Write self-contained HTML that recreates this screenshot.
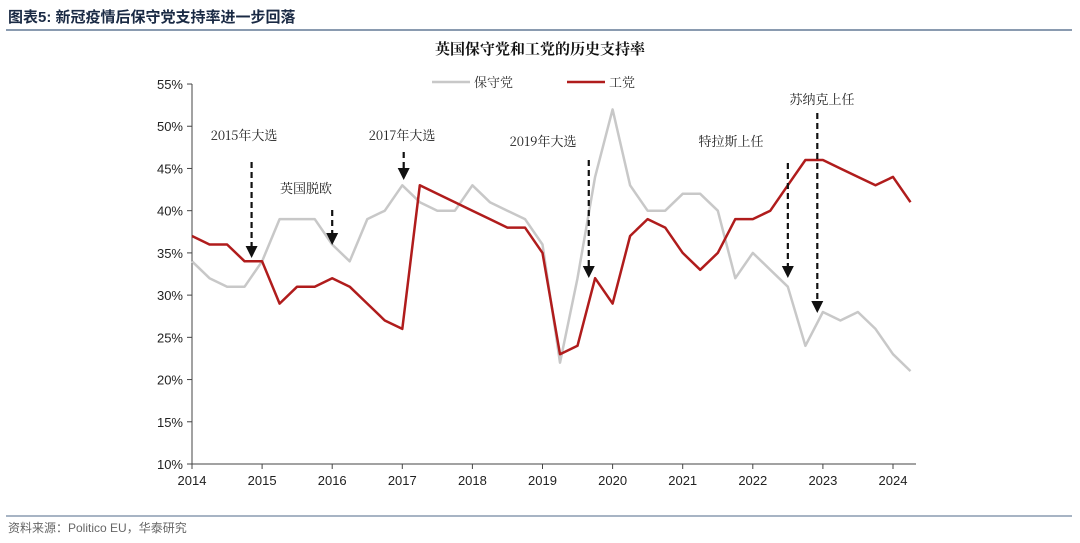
<!DOCTYPE html>
<html><head><meta charset="utf-8"><style>
body{margin:0;background:#fff;width:1080px;height:543px;overflow:hidden;font-family:"Liberation Sans","Noto Sans CJK SC",sans-serif}
svg{display:block}
</style></head><body>
<svg id="c" width="1080" height="543">
<text x="8" y="22" font-size="15" font-weight="bold" fill="#1a2a44" font-family="Liberation Sans,Noto Sans CJK SC,sans-serif">图表5:  新冠疫情后保守党支持率进一步回落</text>
<line x1="6" y1="30" x2="1072" y2="30" stroke="#8a9bb0" stroke-width="2"/>
<text x="540" y="54" font-size="15" font-weight="bold" text-anchor="middle" fill="#111" font-family="Noto Serif CJK SC,serif">英国保守党和工党的历史支持率</text>
<g>
<line x1="432" y1="82" x2="470" y2="82" stroke="#c8c8c8" stroke-width="2.5"/>
<text x="474" y="87" font-size="13" fill="#333" font-family="Noto Serif CJK SC,serif">保守党</text>
<line x1="567" y1="82" x2="605" y2="82" stroke="#b01c1c" stroke-width="2.5"/>
<text x="609" y="87" font-size="13" fill="#333" font-family="Noto Serif CJK SC,serif">工党</text>
</g>
<g id="axes"></g><g id="series"></g><g id="ann"></g>
<line x1="6" y1="516" x2="1072" y2="516" stroke="#8a9bb0" stroke-width="1.5"/>
<text x="8" y="532" font-size="12" fill="#666">资料来源：Politico EU，华泰研究</text>
</svg>
<script>
const years=["2014","2015","2016","2017","2018","2019","2020","2021","2022","2023","2024"];
const yTicks=[10,15,20,25,30,35,40,45,50,55];
const conservative=[34,32,31,31,34,39,39,39,36,34,39,40,43,41,40,40,43,41,40,39,36,22,32,44,52,43,40,40,42,42,40,32,35,33,31,24,28,27,28,26,23,21];
const labour=[37,36,36,34,34,29,31,31,32,31,29,27,26,43,42,41,40,39,38,38,35,23,24,32,29,37,39,38,35,33,35,39,39,40,43,46,46,45,44,43,44,41];
const events=["2015年大选","英国脱欧","2017年大选","2019年大选","特拉斯上任","苏纳克上任"];
const eventTime=[2014.85,2016.0,2017.02,2019.66,2022.5,2022.92];
const NS="http://www.w3.org/2000/svg";
const X0=192,PX=70.1,Y0=464,PY=8.444;
const xs=t=>X0+(t-2014)*PX, ys=v=>Y0-(v-10)*PY;
function mk(tag,attrs,parent){const e=document.createElementNS(NS,tag);for(const k in attrs)e.setAttribute(k,attrs[k]);parent.appendChild(e);return e;}
const ax=document.getElementById('axes');
let e=mk('line',{x1:X0,y1:ys(55),x2:X0,y2:Y0,stroke:'#444','stroke-width':1},ax);


e=mk('line',{x1:X0,y1:Y0,x2:916,y2:Y0,stroke:'#444','stroke-width':1},ax);


yTicks.forEach(v=>{mk('line',{x1:X0-5,y1:ys(v),x2:X0,y2:ys(v),stroke:'#444'},ax);
 const t=mk('text',{x:X0-9,y:ys(v)+5,'font-size':13,'text-anchor':'end',fill:'#222'},ax);t.textContent=v+'%';
 
 });
years.forEach((y,i)=>{const x=xs(2014+i);mk('line',{x1:x,y1:Y0,x2:x,y2:Y0+5,stroke:'#444'},ax);
 const t=mk('text',{x:x,y:Y0+21,'font-size':13,'text-anchor':'middle',fill:'#222'},ax);t.textContent=y;
 
 });
const sg=document.getElementById('series');
function line(arr,col,name){const d=arr.map((v,i)=>(i?'L':'M')+xs(2014+i*0.25).toFixed(1)+','+ys(v).toFixed(1)).join('');
 const p=mk('path',{d:d,fill:'none',stroke:col,'stroke-width':2.5,'stroke-linejoin':'round'},sg);
 
 }
line(conservative,'#c8c8c8','conservative-line');
line(labour,'#b01c1c','labour-line');
const an=document.getElementById('ann');
const lay=[[244,140,162,258],[306,193,210,245],[402,140,152,180],[543,146,160,278],[731,146,163,278],[822,104,113,313]];
events.forEach((txt,i)=>{const x=xs(eventTime[i]);const L=lay[i];
 const t=mk('text',{x:L[0],y:L[1],'font-size':13,'text-anchor':'middle',fill:'#222','font-family':'Noto Serif CJK SC,serif'},an);t.textContent=txt;
 
 
 const g=mk('g',{},an);
 
 
 mk('line',{x1:x,y1:L[2],x2:x,y2:L[3]-10,stroke:'#111','stroke-width':2.2,'stroke-dasharray':'6,4'},g);
 mk('path',{d:`M${x-6},${L[3]-12}L${x+6},${L[3]-12}L${x},${L[3]}Z`,fill:'#111'},g);});
</script>
</body></html>
